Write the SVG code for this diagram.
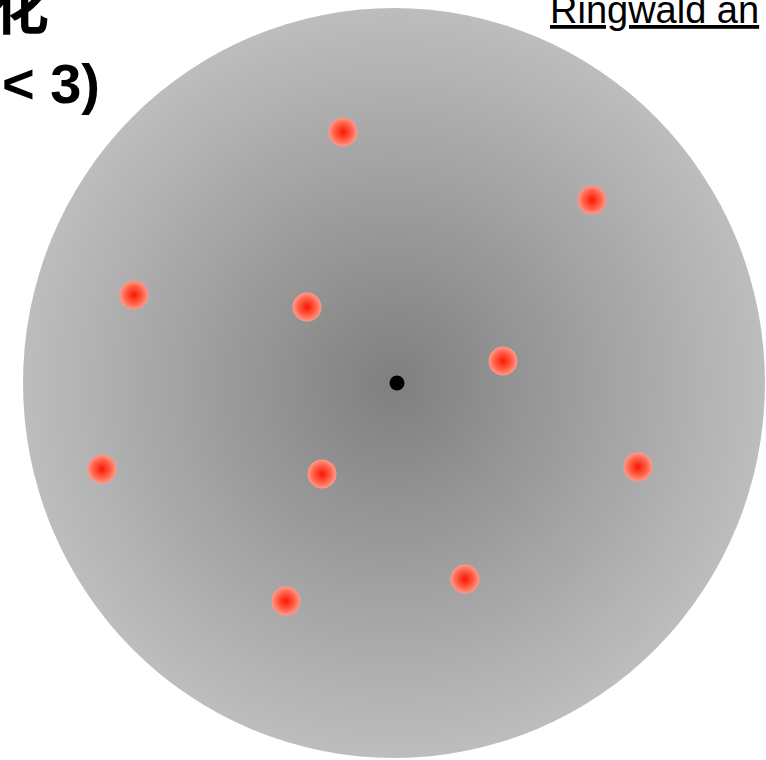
<svg xmlns="http://www.w3.org/2000/svg" width="766" height="760" viewBox="0 0 766 760">
<defs>
<radialGradient id="bg" cx="0.5" cy="0.5" r="0.5">
<stop offset="0" stop-color="#7f7f7f"/>
<stop offset="1" stop-color="#bdbdbd"/>
</radialGradient>
<radialGradient id="red" cx="0.5" cy="0.5" r="0.5">
<stop offset="0" stop-color="#ff1500"/>
<stop offset="0.55" stop-color="#ff5a42"/>
<stop offset="1" stop-color="#ff9a8a"/>
</radialGradient>
<style>
.dot { fill: url(#red); }
.title { font-family: "Liberation Sans", Arial, "Noto Sans CJK SC", sans-serif; font-weight: bold; font-size: 56px; fill: #000; }
.ref { font-family: "Liberation Sans", Arial, sans-serif; font-size: 38px; fill: #000; text-decoration: underline; }
</style>
</defs>
<rect width="766" height="760" fill="#fff"/>
<g id="sphere">
<ellipse cx="394" cy="383" rx="371" ry="375" fill="url(#bg)"/>
</g>
<g id="dots">
<g id="dot1"><circle class="dot" cx="343" cy="132" r="14.5"/></g>
<g id="dot2"><circle class="dot" cx="592" cy="200" r="14.5"/></g>
<g id="dot3"><circle class="dot" cx="134" cy="295" r="14.5"/></g>
<g id="dot4"><circle class="dot" cx="307" cy="307" r="14.5"/></g>
<g id="dot5"><circle class="dot" cx="503" cy="361" r="14.5"/></g>
<g id="dot6"><circle class="dot" cx="102" cy="469" r="14.5"/></g>
<g id="dot7"><circle class="dot" cx="322" cy="474" r="14.5"/></g>
<g id="dot8"><circle class="dot" cx="638" cy="467" r="14.5"/></g>
<g id="dot9"><circle class="dot" cx="465" cy="579" r="14.5"/></g>
<g id="dot10"><circle class="dot" cx="286" cy="601" r="14.5"/></g>
</g>
<g id="center"><circle cx="397" cy="383" r="7.5" fill="#000"/></g>
<g id="connectors"/>
<g id="labels">
<text class="title" x="49" y="29" text-anchor="end" font-family="'Noto Sans CJK SC', sans-serif">化</text>
<text class="title" x="100" y="103" text-anchor="end">&lt; 3)</text>
<text class="ref" x="550" y="23">Ringwald an</text>
</g>
</svg>
